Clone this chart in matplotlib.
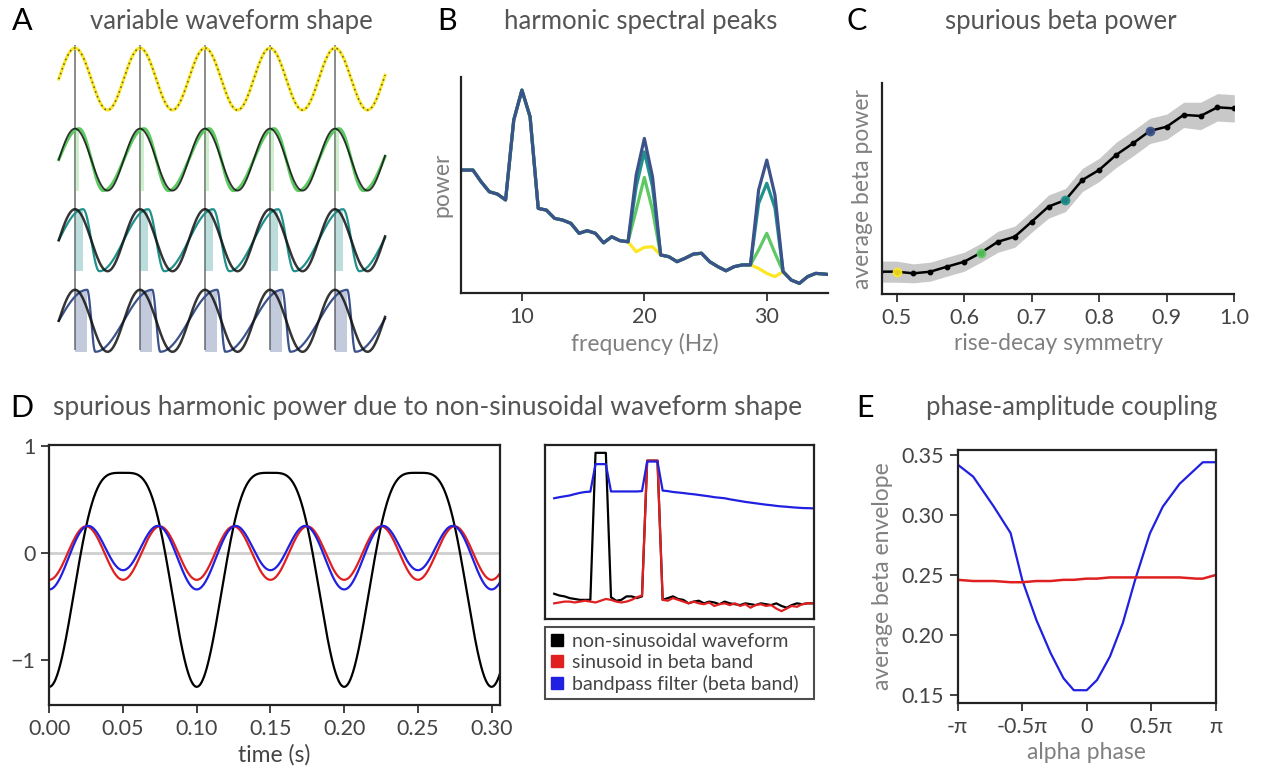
import numpy as np
import matplotlib
matplotlib.use("Agg")
import matplotlib.pyplot as plt
from matplotlib.lines import Line2D

plt.rcParams['font.family'] = ['Lato', 'DejaVu Sans']

W, H = 1262, 772

# ---- data -------------------------------------------------------------
# A / C : rise-decay symmetry of the four example waveforms
shape_sym = [0.5, 0.625, 0.75, 0.875]
shape_colors = ['#fde725', '#5ec962', '#21918c', '#3b528b']
n_cycles = 5.02

# B : power spectra (grid of 2/3 Hz), harmonic bins differ per waveform
freq_b = np.arange(7, 54) * 2 / 3
power_base = [0.569, 0.569, 0.569, 0.515, 0.469, 0.458, 0.431, 0.80, 0.938, 0.815,
              0.392, 0.384, 0.346, 0.338, 0.323, 0.277, 0.289, 0.277, 0.233, 0.261,
              0.243, 0.238, 0.192, 0.212, 0.215, 0.177, 0.169, 0.146, 0.162, 0.181,
              0.185, 0.146, 0.123, 0.104, 0.123, 0.131, 0.131, 0.115, 0.092, 0.077,
              0.10, 0.061, 0.046, 0.077, 0.092, 0.089, 0.085]
peak20 = [[0.192, 0.212, 0.215], [0.384, 0.535, 0.384],
          [0.492, 0.653, 0.492], [0.546, 0.715, 0.538]]
peak30 = [[0.115, 0.092, 0.077], [0.200, 0.277, 0.185],
          [0.415, 0.508, 0.394], [0.477, 0.615, 0.454]]

# C : beta power vs symmetry
sym_c = np.arange(19, 41) * 0.025
power_c = [0.106, 0.106, 0.098, 0.106, 0.130, 0.153, 0.196, 0.248, 0.272, 0.343, 0.415,
           0.446, 0.541, 0.589, 0.660, 0.715, 0.774, 0.794, 0.850, 0.845, 0.886, 0.881]
sem_c = [0.05, 0.05, 0.045, 0.045, 0.045, 0.045, 0.045, 0.05, 0.05, 0.05, 0.055,
         0.055, 0.055, 0.055, 0.06, 0.06, 0.06, 0.06, 0.06, 0.065, 0.065, 0.065]

# D : alpha waveform with a harmonic, and its spectra
alpha_freq = 10.0
alpha_amp = 1.0
harmonic_amp = 0.25
filter_leak = 0.09
phase_offset = 0.05

freq_d = np.arange(2, 53)
spec_nonsin = [0.145, 0.135, 0.13, 0.12, 0.115, 0.11, 0.11, 0.11, 0.955, 0.955,
               0.955, 0.125, 0.105, 0.11, 0.13, 0.13, 0.12, 0.13, 0.91, 0.91,
               0.91, 0.11, 0.12, 0.13, 0.115, 0.11, 0.09, 0.1, 0.105, 0.09,
               0.1, 0.095, 0.085, 0.1, 0.09, 0.085, 0.08, 0.09, 0.085, 0.08,
               0.09, 0.085, 0.08, 0.09, 0.075, 0.065, 0.08, 0.09, 0.085, 0.09, 0.09]
spec_sin = [0.09, 0.095, 0.1, 0.1, 0.095, 0.1, 0.105, 0.1, 0.095, 0.105,
            0.115, 0.11, 0.1, 0.095, 0.1, 0.11, 0.125, 0.135, 0.91, 0.91,
            0.91, 0.11, 0.105, 0.12, 0.11, 0.1, 0.09, 0.1, 0.09, 0.085,
            0.095, 0.075, 0.085, 0.09, 0.08, 0.09, 0.075, 0.085, 0.065, 0.08,
            0.085, 0.075, 0.08, 0.06, 0.045, 0.06, 0.075, 0.07, 0.085, 0.09, 0.09]
spec_filt = [0.694, 0.70, 0.705, 0.71, 0.718, 0.725, 0.73, 0.732, 0.89, 0.89,
             0.89, 0.733, 0.733, 0.733, 0.733, 0.733, 0.733, 0.735, 0.905, 0.905,
             0.905, 0.738, 0.735, 0.73, 0.727, 0.724, 0.72, 0.717, 0.713, 0.709,
             0.705, 0.70, 0.697, 0.694, 0.688, 0.683, 0.678, 0.673, 0.669, 0.665,
             0.661, 0.657, 0.654, 0.65, 0.647, 0.645, 0.642, 0.64, 0.638, 0.637, 0.636]

# E : phase-amplitude coupling (phase in units of pi)
phase_e = [-1.0, -0.88, -0.72, -0.59, -0.50, -0.39, -0.28, -0.18, -0.10, 0.0,
           0.08, 0.18, 0.28, 0.375, 0.49, 0.59, 0.72, 0.85, 0.90, 1.0]
env_filt = [0.342, 0.332, 0.307, 0.285, 0.246, 0.2125, 0.185, 0.164, 0.154, 0.154,
            0.1625, 0.182, 0.21, 0.2458, 0.2847, 0.307, 0.326, 0.339, 0.344, 0.344]
env_sin = [0.246, 0.245, 0.245, 0.244, 0.244, 0.245, 0.245, 0.246, 0.246, 0.247,
           0.247, 0.248, 0.248, 0.248, 0.248, 0.248, 0.248, 0.247, 0.247, 0.25]

# ---- styling ----------------------------------------------------------
TITLE_C = '#555555'
LABEL_C = '#808080'
TICK_C = '#444444'
TICK_FS = 15.5
LABEL_FS = 16.5
TITLE_FS = 18.5


def px_axes(x0, y0, x1, y1):
    return fig.add_axes([x0 / W, 1 - y1 / H, (x1 - x0) / W, (y1 - y0) / H])


def ftext(x, y, s, **kw):
    fig.text(x / W, 1 - y / H, s, va='center', **kw)


def style(ax, box=False):
    for side in ['top', 'right']:
        ax.spines[side].set_visible(box)
    for sp in ax.spines.values():
        sp.set_linewidth(1.6)
        sp.set_color('#222222')
    ax.tick_params(direction='out', length=6, width=1.3, labelsize=TICK_FS,
                   labelcolor=TICK_C, color='#333333', pad=4)


fig = plt.figure(figsize=(W / 100, H / 100), dpi=100)

# panel titles
ftext(22, 21, 'A', fontsize=22, ha='center')
ftext(231, 21, 'variable waveform shape', fontsize=TITLE_FS, color=TITLE_C, ha='center')
ftext(447, 21, 'B', fontsize=22, ha='center')
ftext(641, 21, 'harmonic spectral peaks', fontsize=TITLE_FS, color=TITLE_C, ha='center')
ftext(857, 21, 'C', fontsize=22, ha='center')
ftext(1061, 21, 'spurious beta power', fontsize=TITLE_FS, color=TITLE_C, ha='center')
ftext(22, 408, 'D', fontsize=22, ha='center')
ftext(53, 408, 'spurious harmonic power due to non-sinusoidal waveform shape',
      fontsize=19, color=TITLE_C, ha='left')
ftext(865, 408, 'E', fontsize=22, ha='center')
ftext(1072, 408, 'phase-amplitude coupling', fontsize=TITLE_FS, color=TITLE_C, ha='center')

# ---- A ----------------------------------------------------------------
axA = px_axes(55, 40, 390, 362)
t = np.linspace(0, n_cycles, 3000)
row_gap = 2.6
peaks = np.arange(5) + 0.25
axA.vlines(peaks, -3 * row_gap - 0.95, 1.1, color='#8a8a8a', lw=1.4, zorder=1)
for i, r in enumerate(shape_sym):
    off = -i * row_gap
    s = ((t + r / 2) % 1) - r / 2
    y = np.where(np.abs(s) <= r / 2, np.sin(np.pi * s / r),
                 np.cos(np.pi * (s - r / 2) / (1 - r)))
    if r > 0.5:
        for p in peaks:
            axA.fill_between([p, p + r / 2 - 0.25], off - 1, off + 1,
                             color=shape_colors[i], alpha=0.3, lw=0, zorder=1)
    axA.plot(t, off + y, color=shape_colors[i], lw=2.2 if i < 2 else 1.6, zorder=2)
    if i == 0:
        axA.plot(t, off + np.sin(2 * np.pi * t), color='#6b6b20', lw=1.2,
                 ls=(0, (1, 2)), zorder=3)
    else:
        axA.plot(t, off + np.sin(2 * np.pi * t), color='#111111',
                 lw=1.3 if i == 1 else 1.8, alpha=0.85, zorder=3)
axA.set_xlim(-0.0577, 5.096)
axA.set_ylim(-9.13, 1.26)
axA.axis('off')

# ---- B ----------------------------------------------------------------
axB = px_axes(460.7, 76.7, 828, 293.3)
for i in range(4):
    pw = list(power_base)
    pw[22:25] = peak20[i]
    pw[37:40] = peak30[i]
    axB.plot(freq_b, pw, color=shape_colors[i], lw=2.3)
axB.set_xlim(5, 35)
axB.set_ylim(0, 1)
axB.set_xticks([10, 20, 30])
axB.set_yticks([])
style(axB)
axB.set_xlabel('frequency (Hz)', fontsize=LABEL_FS, color=LABEL_C, labelpad=4)
axB.set_ylabel('power', fontsize=LABEL_FS, color=LABEL_C, labelpad=6)

# ---- C ----------------------------------------------------------------
axC = px_axes(881.7, 83.3, 1234.3, 294)
lo = np.array(power_c) - np.array(sem_c)
hi = np.array(power_c) + np.array(sem_c)
axC.fill_between(sym_c, lo, hi, color='#c8c8c8', lw=0)
axC.plot(sym_c, power_c, color='black', lw=1.8, marker='o', ms=3.2)
for r, c in zip(shape_sym, shape_colors):
    k = int(np.argmin(np.abs(sym_c - r)))
    axC.plot(sym_c[k], power_c[k], 'o', color=c, ms=6, alpha=0.9, zorder=4)
axC.set_xlim(0.478, 1.0)
axC.set_ylim(0, 1)
axC.set_xticks([0.5, 0.6, 0.7, 0.8, 0.9, 1.0])
axC.set_xticklabels(['0.5', '0.6', '0.7', '0.8', '0.9', '1.0'])
axC.set_yticks([])
style(axC)
axC.set_xlabel('rise-decay symmetry', fontsize=LABEL_FS, color=LABEL_C, labelpad=4)
axC.set_ylabel('average beta power', fontsize=LABEL_FS, color=LABEL_C, labelpad=6)

# ---- D ----------------------------------------------------------------
axD = px_axes(49.3, 445, 500, 705)
td = np.linspace(0, 0.306, 2000)
theta = 2 * np.pi * alpha_freq * (td - phase_offset)
harm = -harmonic_amp * np.cos(2 * theta)
nonsin = alpha_amp * np.cos(theta) + harm
filt = harm + filter_leak * np.cos(theta)
axD.axhline(0, color='#cfcfcf', lw=2, zorder=0)
axD.plot(td, nonsin, color='black', lw=1.6)
axD.plot(td, harm, color='#e02020', lw=1.6)
axD.plot(td, filt, color='#2020e0', lw=1.6)
axD.set_xlim(0, 0.3057)
axD.set_ylim(-1.42, 1.01)
axD.set_xticks(np.arange(7) * 0.05)
axD.set_xticklabels(['%.2f' % v for v in np.arange(7) * 0.05])
axD.set_yticks([-1, 0, 1])
style(axD, box=True)
axD.set_xlabel('time (s)', fontsize=LABEL_FS, color=TICK_C, labelpad=4)

axI = px_axes(545, 445, 814, 619)
axI.plot(freq_d, spec_nonsin, color='black', lw=1.6)
axI.plot(freq_d, spec_sin, color='#e02020', lw=1.6)
axI.plot(freq_d, spec_filt, color='#2020e0', lw=1.6)
axI.set_xlim(0.22, 52.3)
axI.set_ylim(0, 1)
axI.set_xticks([])
axI.set_yticks([])
style(axI, box=True)

handles = [Line2D([], [], ls='none', marker='s', ms=8, color=c)
           for c in ['black', '#e02020', '#2020e0']]
leg = fig.legend(handles, ['non-sinusoidal waveform', 'sinusoid in beta band',
                           'bandpass filter (beta band)'],
                 loc='upper left', bbox_to_anchor=(545 / W, 1 - 705 / H, 269 / W, 78 / H),
                 mode='expand', fontsize=14, frameon=True, fancybox=False,
                 handlelength=0.6, handletextpad=0.5, labelspacing=0.2,
                 borderpad=0.3, borderaxespad=0)
leg.get_frame().set_edgecolor('#222222')
leg.get_frame().set_linewidth(1.5)
for txt in leg.get_texts():
    txt.set_color(TICK_C)

# ---- E ----------------------------------------------------------------
axE = px_axes(957.7, 450, 1215.7, 702.7)
axE.plot(phase_e, env_filt, color='#2020e0', lw=1.6)
axE.plot(phase_e, env_sin, color='#e02020', lw=1.8)
axE.set_xlim(-1, 1)
axE.set_ylim(0.1436, 0.3542)
axE.set_xticks([-1, -0.5, 0, 0.5, 1])
axE.set_xticklabels(['-π', '-0.5π', '0', '0.5π', 'π'])
axE.set_yticks([0.15, 0.2, 0.25, 0.3, 0.35])
axE.set_yticklabels(['0.15', '0.20', '0.25', '0.30', '0.35'])
style(axE, box=True)
axE.set_xlabel('alpha phase', fontsize=LABEL_FS, color=LABEL_C, labelpad=4)
axE.set_ylabel('average beta envelope', fontsize=LABEL_FS, color=LABEL_C, labelpad=6)

fig.savefig('out.png', dpi=100)
